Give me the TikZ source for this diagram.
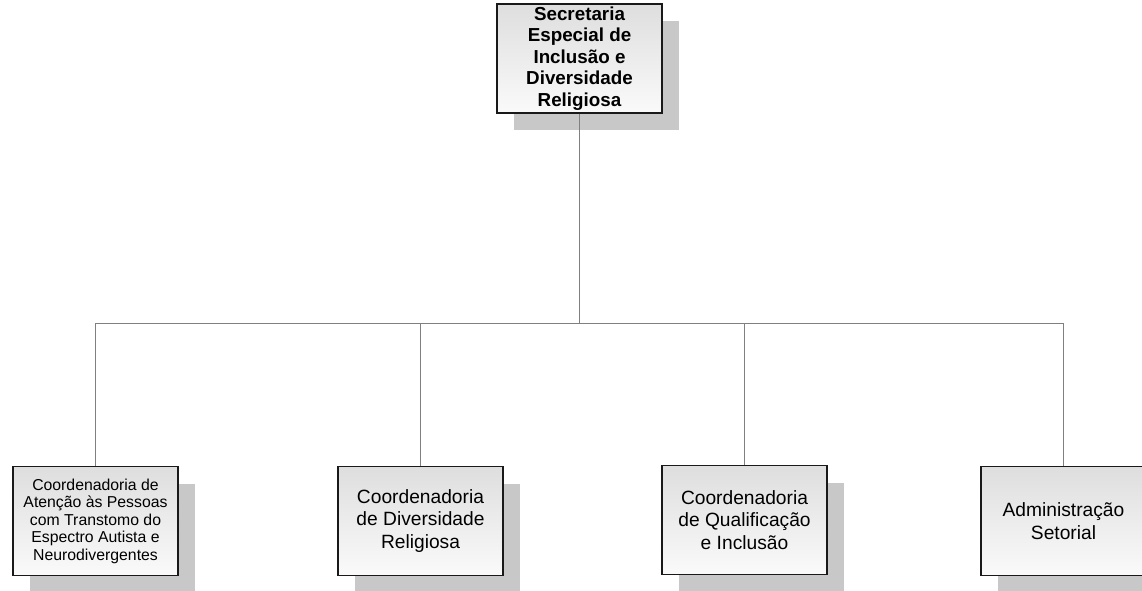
\documentclass[tikz,border=0pt]{standalone}
\usepackage{fontspec}
\setmainfont{Liberation Sans}
\usetikzlibrary{shadows}
\definecolor{shadowgray}{RGB}{200,200,200}
\definecolor{linegray}{RGB}{128,128,128}
\definecolor{topfill}{RGB}{222,222,222}
\definecolor{botfill}{RGB}{250,250,250}
\begin{document}
\begin{tikzpicture}[x=1pt,y=-1pt,
  orgbox/.style={draw=black!90, line width=1.3pt, top color=topfill, bottom color=botfill,
    minimum width=165pt, minimum height=109pt, inner sep=2pt, align=center,
    general shadow={fill=shadowgray, shadow xshift=17pt, shadow yshift=-17pt}},
  conn/.style={draw=linegray, line width=0.8pt},
  bigfont/.style={font=\fontsize{18.8}{21.5}\selectfont\bfseries},
  midfont/.style={font=\fontsize{19.2}{22.3}\selectfont},
  smallfont/.style={font=\fontsize{15.8}{17.5}\selectfont}]
\useasboundingbox (0,0) rectangle (1142,590);
\node[orgbox, bigfont] (top) at (579.5,58.5) {Secretaria\\Especial de\\Inclusão e\\Diversidade\\Religiosa};
\node[orgbox, smallfont] (b1) at (95.5,521) {Coordenadoria de\\Atenção às Pessoas\\com Transtomo do\\Espectro Autista e\\Neurodivergentes};
\node[orgbox, midfont] (b2) at (420.5,521) {Coordenadoria\\de Diversidade\\Religiosa};
\node[orgbox, midfont] (b3) at (744.5,520) {Coordenadoria\\de Qualificação\\e Inclusão};
\node[orgbox, midfont] (b4) at (1063.5,521) {Administração\\Setorial};
\coordinate (bus) at (0,323);
\draw[conn] (top.south) -- (top.south |- bus);
\draw[conn] (b1.north |- bus) -- (b4.north |- bus);
\foreach \b in {b1,b2,b3,b4} \draw[conn] (\b.north |- bus) -- (\b.north);
\end{tikzpicture}
\end{document}
